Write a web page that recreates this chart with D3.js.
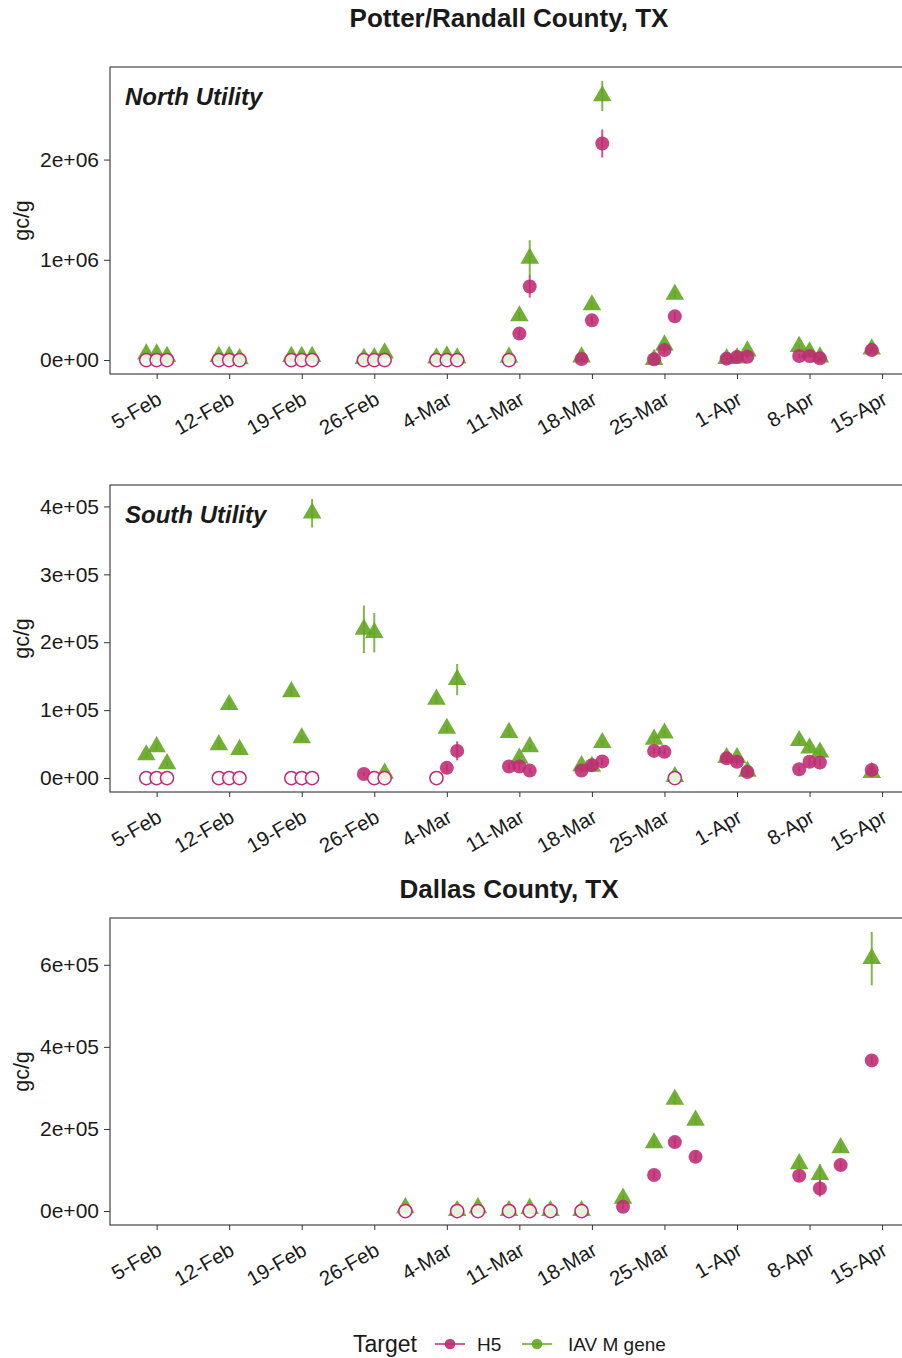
<!DOCTYPE html>
<html>
<head>
<meta charset="utf-8">
<script src="https://cdn.jsdelivr.net/npm/d3@7"></script>
<style>
  body { margin: 0; background: #fff; }
  text { font-family: "Liberation Sans", Arial, Helvetica, sans-serif; fill: #1a1a1a; }
</style>
</head>
<body>
<div id="chart"></div>
<script>
// sample dates (2024), one set per site
const utilityDates = ["2024-02-04","2024-02-05","2024-02-06","2024-02-11","2024-02-12","2024-02-13",
  "2024-02-18","2024-02-19","2024-02-20","2024-02-25","2024-02-26","2024-02-27",
  "2024-03-03","2024-03-04","2024-03-05","2024-03-10","2024-03-11","2024-03-12",
  "2024-03-17","2024-03-18","2024-03-19","2024-03-24","2024-03-25","2024-03-26",
  "2024-03-31","2024-04-01","2024-04-02","2024-04-07","2024-04-08","2024-04-09","2024-04-14"];
const dallasDates = ["2024-02-29","2024-03-05","2024-03-07","2024-03-10","2024-03-12","2024-03-14",
  "2024-03-17","2024-03-21","2024-03-24","2024-03-26","2024-03-28","2024-04-07","2024-04-09",
  "2024-04-11","2024-04-14"];

// gc/g, null = not detected (open circle at 0)
const northH5 = [null,null,null,null,null,null,null,null,null,null,null,null,null,null,null,
  null,264000,733000,10000,396000,2160000,8000,99000,436000,14000,30000,33000,40000,40000,17000,99000];
const northH5Sd = [0,0,0,0,0,0,0,0,0,0,0,0,0,0,0,
  0,40000,110000,10000,40000,140000,8000,30000,40000,10000,15000,15000,20000,15000,10000,20000];
const northIav = [60000,60000,35000,35000,35000,12000,35000,35000,35000,15000,22000,70000,20000,40000,20000,
  27000,440000,1015000,30000,550000,2634000,5000,150000,655000,14000,20000,90000,135000,80000,30000,110000];
const northIavSd = [10000,10000,10000,10000,10000,8000,10000,10000,10000,10000,10000,10000,10000,10000,10000,
  10000,40000,180000,10000,40000,150000,5000,30000,40000,10000,10000,20000,20000,15000,10000,15000];

const southH5 = [null,null,null,null,null,null,null,null,null,6000,null,null,null,15000,40000,
  17000,17000,11000,11000,19000,24500,40000,38600,null,29000,24000,9000,13000,24000,23000,12000];
const southH5Sd = [0,0,0,0,0,0,0,0,0,3000,0,0,0,5000,14000,
  5000,6000,4000,4000,4000,5000,5000,5000,0,5000,5000,4000,4000,6000,5000,3000];
const southIav = [34000,46000,21000,49000,108000,42000,127000,59000,390000,219000,214000,7000,116000,73000,145000,
  67000,29000,46000,18000,17000,52000,57000,66000,2000,30000,30000,10000,55000,44000,38000,8000];
const southIavSd = [4000,5000,4000,6000,8000,4000,7000,4000,21000,35000,29000,2000,7000,5000,23000,
  5000,4000,4000,3000,3000,4000,5000,5000,1000,4000,4000,3000,5000,4000,4000,2000];

const dallasH5 = [null,null,null,null,null,null,null,10500,88000,168000,132000,86000,55000,112000,367000];
const dallasH5Sd = [0,0,0,0,0,0,0,5000,10000,12000,10000,10000,20000,10000,10000];
const dallasIav = [8000,1000,8000,1000,6000,1000,1000,31000,166000,272000,221000,115000,89000,154000,615000];
const dallasIavSd = [1000,1000,1000,1000,1000,1000,1000,8000,10000,12000,10000,10000,25000,10000,65000];

const tickDates = ["2024-02-05","2024-02-12","2024-02-19","2024-02-26","2024-03-04","2024-03-11",
  "2024-03-18","2024-03-25","2024-04-01","2024-04-08","2024-04-15"];
const northTicks = [0, 1e6, 2e6];
const southTicks = [0, 1e5, 2e5, 3e5, 4e5];
const dallasTicks = [0, 2e5, 4e5, 6e5];

const targets = ["H5", "IAV M gene"];
const colH5 = "#bf2a73", colIav = "#63a620";

const W = 902, H = 1358;
const plotL = 110, plotR = 908, panelH = 307;
const parse = d3.utcParse("%Y-%m-%d");

const svg = d3.select("#chart").append("svg")
  .attr("width", W).attr("height", H)
  .style("display", "block");
svg.append("rect").attr("width", W).attr("height", H).attr("fill", "#fff");

// shared x scale with ggplot style 5% padding
const allDates = utilityDates.concat(dallasDates).map(parse);
const dMin = d3.min(allDates), dMax = d3.max(allDates);
const pad = (dMax - dMin) * 0.05;
const x = d3.scaleUtc()
  .domain([new Date(+dMin - pad), new Date(+dMax + pad)])
  .range([plotL, plotR]);

function sci(v) {
  if (v === 0) return "0e+00";
  let e = Math.floor(Math.log10(v) + 1e-9);
  let m = Math.round(v / Math.pow(10, e));
  return m + "e+" + String(e).padStart(2, "0");
}

const panels = [
  { top: 67, dates: utilityDates, h5: northH5, h5sd: northH5Sd, iav: northIav, iavsd: northIavSd,
    ticks: northTicks, label: "North Utility" },
  { top: 485, dates: utilityDates, h5: southH5, h5sd: southH5Sd, iav: southIav, iavsd: southIavSd,
    ticks: southTicks, label: "South Utility" },
  { top: 918, dates: dallasDates, h5: dallasH5, h5sd: dallasH5Sd, iav: dallasIav, iavsd: dallasIavSd,
    ticks: dallasTicks, label: null }
];

svg.append("text").attr("x", 509).attr("y", 27)
  .attr("text-anchor", "middle").style("font-size", "26px").style("font-weight", "bold")
  .text("Potter/Randall County, TX");
svg.append("text").attr("x", 509).attr("y", 898)
  .attr("text-anchor", "middle").style("font-size", "26px").style("font-weight", "bold")
  .text("Dallas County, TX");

const defs = svg.append("defs");

panels.forEach((p, k) => {
  const rows = p.dates.map((d, i) => ({
    date: parse(d), h5: p.h5[i], h5sd: p.h5sd[i], iav: p.iav[i], iavsd: p.iavsd[i]
  }));
  const hi = d3.max(rows, r => Math.max((r.h5 || 0) + r.h5sd, r.iav + r.iavsd));
  const y = d3.scaleLinear()
    .domain([-0.05 * hi, 1.05 * hi])
    .range([p.top + panelH, p.top]);

  const g = svg.append("g");
  const cid = "pc" + k;
  defs.append("clipPath").attr("id", cid)
    .append("rect").attr("x", plotL).attr("y", p.top).attr("width", plotR - plotL).attr("height", panelH);
  const inner = g.append("g").attr("clip-path", `url(#${cid})`);

  // IAV error bars then triangles
  inner.selectAll(".eiav").data(rows).enter().append("line")
    .attr("x1", d => x(d.date)).attr("x2", d => x(d.date))
    .attr("y1", d => y(d.iav - d.iavsd)).attr("y2", d => y(d.iav + d.iavsd))
    .attr("stroke", colIav).attr("stroke-width", 2).attr("opacity", 0.8);
  inner.selectAll(".piav").data(rows).enter().append("path")
    .attr("d", d3.symbol().type(d3.symbolTriangle).size(150))
    .attr("transform", d => `translate(${x(d.date)},${y(d.iav)})`)
    .attr("fill", colIav).attr("fill-opacity", 0.9);

  // H5 error bars then circles
  const det = rows.filter(d => d.h5 !== null);
  const nd = rows.filter(d => d.h5 === null);
  inner.selectAll(".eh5").data(det).enter().append("line")
    .attr("x1", d => x(d.date)).attr("x2", d => x(d.date))
    .attr("y1", d => y(d.h5 - d.h5sd)).attr("y2", d => y(d.h5 + d.h5sd))
    .attr("stroke", colH5).attr("stroke-width", 2).attr("opacity", 0.8);
  inner.selectAll(".ph5").data(det).enter().append("circle")
    .attr("cx", d => x(d.date)).attr("cy", d => y(d.h5)).attr("r", 7)
    .attr("fill", colH5).attr("fill-opacity", 0.88);
  inner.selectAll(".nh5").data(nd).enter().append("circle")
    .attr("cx", d => x(d.date)).attr("cy", y(0)).attr("r", 6.6)
    .attr("fill", "#fff").attr("fill-opacity", 0.82)
    .attr("stroke", colH5).attr("stroke-width", 1.5);

  // border
  g.append("rect").attr("x", plotL).attr("y", p.top)
    .attr("width", plotR - plotL).attr("height", panelH)
    .attr("fill", "none").attr("stroke", "#333").attr("stroke-width", 1.1);

  // y axis
  const ya = g.append("g").attr("transform", `translate(${plotL},0)`)
    .call(d3.axisLeft(y).tickValues(p.ticks).tickFormat(sci).tickSize(6).tickPadding(5));
  ya.select(".domain").remove();
  ya.selectAll("line").attr("stroke", "#333");
  ya.selectAll("text").style("font-size", "21px").attr("fill", "#1a1a1a");

  // x axis
  const xa = g.append("g").attr("transform", `translate(0,${p.top + panelH})`)
    .call(d3.axisBottom(x).tickValues(tickDates.map(parse)).tickFormat(d3.utcFormat("%-d-%b")).tickSize(5));
  xa.select(".domain").remove();
  xa.selectAll("line").attr("stroke", "#333");
  xa.selectAll("text")
    .attr("y", 0).attr("dy", 0)
    .attr("transform", "translate(6,29) rotate(-30)")
    .attr("text-anchor", "end")
    .style("font-size", "20.5px").attr("fill", "#1a1a1a");

  // y title
  g.append("text")
    .attr("transform", `translate(29,${p.top + panelH / 2}) rotate(-90)`)
    .attr("text-anchor", "middle").style("font-size", "21.5px")
    .text("gc/g");

  if (p.label) {
    g.append("text").attr("x", 125).attr("y", p.top + 38)
      .style("font-size", "24px").style("font-weight", "bold").style("font-style", "italic")
      .text(p.label);
  }
});

// legend
const leg = svg.append("g");
leg.append("text").attr("x", 353).attr("y", 1352).style("font-size", "23px").text("Target");
const keyX = [435, 522];
const keyTx = [477, 568];
const keyCol = [colH5, colIav];
targets.forEach((t, i) => {
  leg.append("line").attr("x1", keyX[i]).attr("x2", keyX[i] + 30)
    .attr("y1", 1344).attr("y2", 1344)
    .attr("stroke", keyCol[i]).attr("stroke-width", 2).attr("opacity", 0.75);
  leg.append("circle").attr("cx", keyX[i] + 15).attr("cy", 1344).attr("r", 5.3)
    .attr("fill", keyCol[i]).attr("fill-opacity", 0.9);
  leg.append("text").attr("x", keyTx[i]).attr("y", 1351).style("font-size", "19px").text(t);
});
</script>
</body>
</html>
